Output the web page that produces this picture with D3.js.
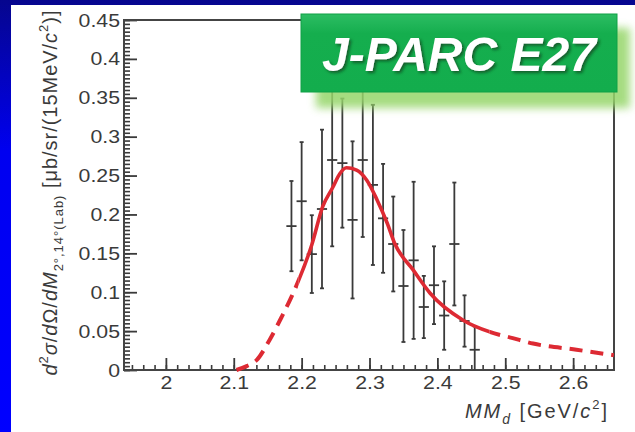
<!DOCTYPE html>
<html>
<head>
<meta charset="utf-8">
<script src="https://cdn.jsdelivr.net/npm/d3@7"></script>
<style>
  body { margin: 0; }
  svg { display: block; }
  text { font-family: "Liberation Sans", Arial, Helvetica, sans-serif; }
</style>
</head>
<body>
<div id="chart"></div>
<script>
// bin centres (GeV/c^2), 15 MeV bins
const massBins = [2.185, 2.200, 2.215, 2.230, 2.245, 2.260, 2.275, 2.290, 2.305, 2.320,
                  2.335, 2.350, 2.365, 2.380, 2.395, 2.410, 2.425, 2.440, 2.455];
const xsec    = [0.185, 0.217, 0.149, 0.207, 0.270, 0.266, 0.193, 0.270, 0.238, 0.195,
                 0.162, 0.108, 0.141, 0.081, 0.109, 0.070, 0.162, 0.063, 0.026];
const xsecErr = [0.058, 0.076, 0.050, 0.102, 0.111, 0.083, 0.101, 0.099, 0.103, 0.070,
                 0.061, 0.072, 0.101, 0.040, 0.050, 0.044, 0.079, 0.033, 0.030];

// fitted curve
const fitMass = [2.104, 2.119, 2.134, 2.153, 2.171, 2.185, 2.195, 2.215, 2.231, 2.246,
                 2.256, 2.266, 2.281, 2.296, 2.311, 2.326, 2.337, 2.364, 2.389, 2.438,
                 2.477, 2.511, 2.541, 2.605, 2.660];
const fitXsec = [0.000, 0.005, 0.013, 0.039, 0.069, 0.094, 0.114, 0.161, 0.210, 0.235,
                 0.252, 0.260, 0.257, 0.244, 0.219, 0.189, 0.163, 0.129, 0.099, 0.064,
                 0.049, 0.041, 0.034, 0.026, 0.019];
const fitSolidRange = [2.195, 2.477];

const xTicks = [2.0, 2.1, 2.2, 2.3, 2.4, 2.5, 2.6];
const xTickLabels = ["2", "2.1", "2.2", "2.3", "2.4", "2.5", "2.6"];
const yTicks = [0, 0.05, 0.1, 0.15, 0.2, 0.25, 0.3, 0.35, 0.4, 0.45];
const yTickLabels = ["0", "0.05", "0.1", "0.15", "0.2", "0.25", "0.3", "0.35", "0.4", "0.45"];

const W = 635, H = 432;
const plot = {left: 124, top: 20, right: 614, bottom: 370};
const stretch = 1.12; // the chart text is a bit wide in the picture

const svg = d3.select("#chart").append("svg")
    .attr("width", W)
    .attr("height", H);

const defs = svg.append("defs");
const bg = defs.append("linearGradient").attr("id", "bg")
    .attr("x1", 0).attr("y1", 0).attr("x2", 0).attr("y2", 1);
bg.append("stop").attr("offset", "0%").attr("stop-color", "#06068e");
bg.append("stop").attr("offset", "35%").attr("stop-color", "#0000f0");
bg.append("stop").attr("offset", "100%").attr("stop-color", "#0000ff");

const boxGrad = defs.append("linearGradient").attr("id", "boxGrad")
    .attr("x1", 0).attr("y1", 0).attr("x2", 0).attr("y2", 1);
boxGrad.append("stop").attr("offset", "0%").attr("stop-color", "#2cbd63");
boxGrad.append("stop").attr("offset", "25%").attr("stop-color", "#15ae4e");
boxGrad.append("stop").attr("offset", "100%").attr("stop-color", "#13ad4d");

defs.append("filter").attr("id", "glow")
    .attr("x", "-10%").attr("y", "-20%").attr("width", "120%").attr("height", "140%")
  .append("feGaussianBlur").attr("stdDeviation", 4);

const shadow = defs.append("filter").attr("id", "textShadow");
shadow.append("feDropShadow")
    .attr("dx", 2).attr("dy", 2).attr("stdDeviation", 1.5)
    .attr("flood-color", "#0a3a1a").attr("flood-opacity", 0.7);

defs.append("clipPath").attr("id", "plotClip")
  .append("rect")
    .attr("x", plot.left).attr("y", plot.top)
    .attr("width", plot.right - plot.left).attr("height", plot.bottom - plot.top);

// background + white panel
svg.append("rect").attr("width", W).attr("height", H).attr("fill", "url(#bg)");
svg.append("rect").attr("x", 11).attr("y", 5).attr("width", W - 11).attr("height", H - 5)
    .attr("fill", "#ffffff");

const x = d3.scaleLinear().domain([1.9383, 2.6602]).range([plot.left, plot.right]);
const y = d3.scaleLinear().domain([0, 0.45]).range([plot.bottom, plot.top]);

const ink = "#3a3a3a";

// minor ticks
const yMinor = d3.range(0, 91).map(i => i * 0.005);
const xMinor = d3.range(116, 160).map(i => i / 60).filter(v => v > 1.94 && v < 2.66);

svg.append("g")
    .attr("transform", `translate(${plot.left},0)`)
    .call(d3.axisLeft(y).tickValues(yMinor).tickFormat("").tickSize(-6).tickSizeOuter(0))
    .call(g => g.select(".domain").remove())
    .call(g => g.selectAll("line").attr("stroke", ink).attr("stroke-width", 1.6));

svg.append("g")
    .attr("transform", `translate(0,${plot.bottom})`)
    .call(d3.axisBottom(x).tickValues(xMinor).tickFormat("").tickSize(-5).tickSizeOuter(0))
    .call(g => g.select(".domain").remove())
    .call(g => g.selectAll("line").attr("stroke", ink).attr("stroke-width", 1.6));

// major ticks + labels
svg.append("g")
    .attr("transform", `translate(${plot.left},0)`)
    .call(d3.axisLeft(y).tickValues(yTicks).tickFormat((d, i) => yTickLabels[i])
        .tickSize(-13).tickSizeOuter(0).tickPadding(4))
    .call(g => g.select(".domain").remove())
    .call(g => g.selectAll("line").attr("stroke", ink).attr("stroke-width", 1.8))
    .call(g => g.selectAll("text")
        .attr("font-size", 19)
        .attr("fill", ink)
        .attr("font-family", null)
        .attr("x", -4 / stretch)
        .attr("transform", `scale(${stretch},1)`));

svg.append("g")
    .attr("transform", `translate(0,${plot.bottom})`)
    .call(d3.axisBottom(x).tickValues(xTicks).tickFormat((d, i) => xTickLabels[i])
        .tickSize(-12).tickSizeOuter(0).tickPadding(6))
    .call(g => g.select(".domain").remove())
    .call(g => g.selectAll("line").attr("stroke", ink).attr("stroke-width", 1.8))
    .call(g => g.selectAll("text")
        .attr("font-size", 19)
        .attr("fill", ink)
        .attr("font-family", null)
        .attr("transform", `scale(${stretch},1)`));

// frame
svg.append("rect")
    .attr("x", plot.left).attr("y", plot.top)
    .attr("width", plot.right - plot.left).attr("height", plot.bottom - plot.top)
    .attr("fill", "none").attr("stroke", "#444").attr("stroke-width", 2);

// data points with error bars
const points = massBins.map((m, i) => ({m, v: xsec[i], e: xsecErr[i]}));
const halfBin = 0.0075;

const pts = svg.append("g")
    .attr("clip-path", "url(#plotClip)")
    .attr("stroke", ink)
    .attr("stroke-width", 1.8);

pts.selectAll(".ebar").data(points).join("line")
    .attr("x1", d => x(d.m)).attr("x2", d => x(d.m))
    .attr("y1", d => y(Math.max(0, d.v - d.e))).attr("y2", d => y(d.v + d.e));

pts.selectAll(".hbar").data(points).join("line")
    .attr("x1", d => x(d.m - halfBin)).attr("x2", d => x(d.m + halfBin))
    .attr("y1", d => y(d.v)).attr("y2", d => y(d.v));

pts.selectAll(".capTop").data(points).join("line")
    .attr("x1", d => x(d.m) - 2).attr("x2", d => x(d.m) + 2)
    .attr("y1", d => y(d.v + d.e)).attr("y2", d => y(d.v + d.e));

pts.selectAll(".capBot").data(points.filter(d => d.v - d.e > 0)).join("line")
    .attr("x1", d => x(d.m) - 2).attr("x2", d => x(d.m) + 2)
    .attr("y1", d => y(d.v - d.e)).attr("y2", d => y(d.v - d.e));

// fit curve: solid inside the fit range, dashed outside
const fit = fitMass.map((m, i) => ({m, v: fitXsec[i]}));
const line = d3.line().x(d => x(d.m)).y(d => y(d.v)).curve(d3.curveMonotoneX);

const solidClip = defs.append("clipPath").attr("id", "solidClip");
solidClip.append("rect")
    .attr("x", x(fitSolidRange[0])).attr("y", plot.top - 10)
    .attr("width", x(fitSolidRange[1]) - x(fitSolidRange[0])).attr("height", H);

const dashClip = defs.append("clipPath").attr("id", "dashClip");
dashClip.append("rect")
    .attr("x", plot.left).attr("y", plot.top - 10)
    .attr("width", x(fitSolidRange[0]) - plot.left).attr("height", H);
dashClip.append("rect")
    .attr("x", x(fitSolidRange[1])).attr("y", plot.top - 10)
    .attr("width", plot.right - x(fitSolidRange[1])).attr("height", H);

svg.append("path")
    .datum(fit)
    .attr("clip-path", "url(#dashClip)")
    .attr("fill", "none")
    .attr("stroke", "#dd2a33")
    .attr("stroke-width", 4)
    .attr("stroke-dasharray", "13,8")
    .attr("d", line);

svg.append("path")
    .datum(fit)
    .attr("clip-path", "url(#solidClip)")
    .attr("fill", "none")
    .attr("stroke", "#dd2a33")
    .attr("stroke-width", 3.6)
    .attr("d", line);

// axis titles
const yTitle = svg.append("text")
    .attr("transform", "translate(57,193) rotate(-90)")
    .attr("text-anchor", "middle")
    .attr("font-size", 20)
    .attr("fill", ink)
    .attr("textLength", 365)
    .attr("lengthAdjust", "spacing");
yTitle.append("tspan").attr("font-style", "italic").text("d");
yTitle.append("tspan").attr("font-size", 13).attr("dy", -9).text("2");
yTitle.append("tspan").attr("font-style", "italic").attr("dy", 9).text("σ");
yTitle.append("tspan").text("/");
yTitle.append("tspan").attr("font-style", "italic").text("d");
yTitle.append("tspan").text("Ω/");
yTitle.append("tspan").attr("font-style", "italic").text("dM");
yTitle.append("tspan").attr("font-size", 13).attr("dy", 6).text("2°,14°(Lab)");
yTitle.append("tspan").attr("dy", -6).text(" [μb/sr/(15MeV/");
yTitle.append("tspan").attr("font-style", "italic").text("c");
yTitle.append("tspan").attr("font-size", 13).attr("dy", -9).text("2");
yTitle.append("tspan").attr("dy", 9).text(")]");

const xTitle = svg.append("text")
    .attr("x", 607).attr("y", 418)
    .attr("text-anchor", "end")
    .attr("font-size", 20)
    .attr("fill", ink)
    .attr("textLength", 142)
    .attr("lengthAdjust", "spacing");
xTitle.append("tspan").attr("font-style", "italic").text("MM");
xTitle.append("tspan").attr("font-style", "italic").attr("font-size", 14).attr("dy", 6).text("d");
xTitle.append("tspan").attr("dy", -6).text(" [GeV/");
xTitle.append("tspan").attr("font-style", "italic").text("c");
xTitle.append("tspan").attr("font-size", 13).attr("dy", -9).text("2");
xTitle.append("tspan").attr("dy", 9).text("]");

// experiment badge
const badge = {x: 301, y: 14, w: 316, h: 78};
svg.append("rect")
    .attr("x", badge.x + 15).attr("y", badge.y + 14)
    .attr("width", badge.w - 2).attr("height", badge.h + 2)
    .attr("fill", "#96d66a")
    .attr("opacity", 0.85)
    .attr("filter", "url(#glow)");
svg.append("rect")
    .attr("x", badge.x).attr("y", badge.y)
    .attr("width", badge.w).attr("height", badge.h)
    .attr("fill", "url(#boxGrad)")
    .attr("stroke", "#10a046").attr("stroke-width", 1);
svg.append("text")
    .attr("x", badge.x + badge.w / 2).attr("y", 71)
    .attr("text-anchor", "middle")
    .attr("font-size", 48)
    .attr("font-weight", "bold")
    .attr("font-style", "italic")
    .attr("fill", "#ffffff")
    .attr("filter", "url(#textShadow)")
    .text("J-PARC E27");
</script>
</body>
</html>
